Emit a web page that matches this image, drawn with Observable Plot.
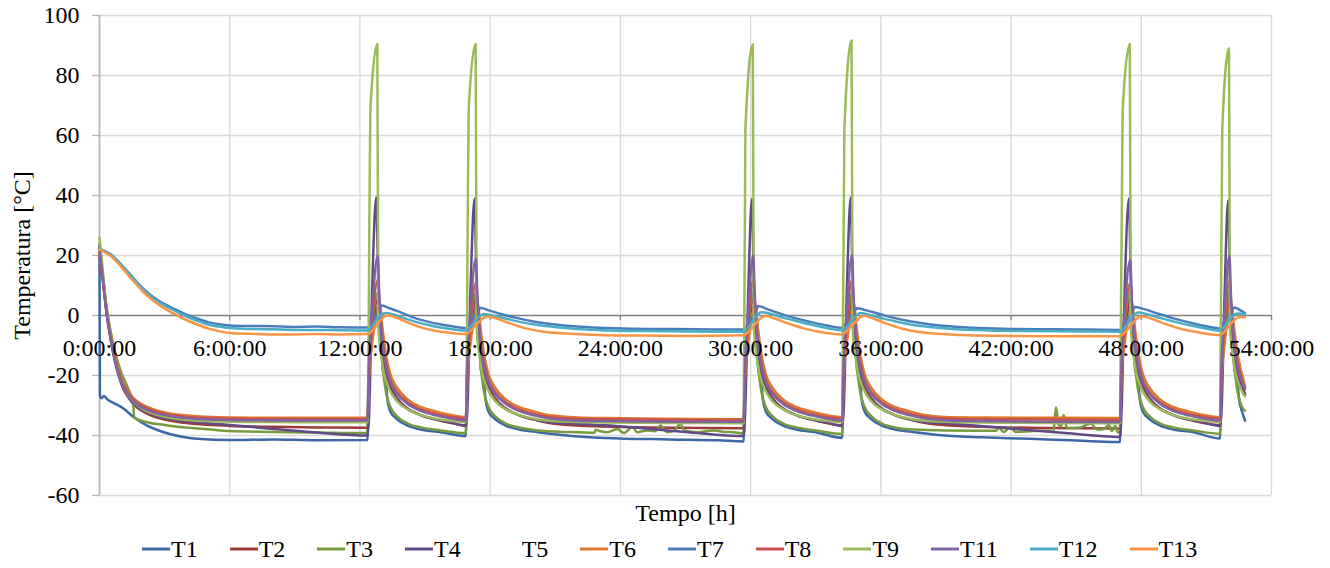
<!DOCTYPE html>
<html>
<head>
<meta charset="utf-8">
<script src="https://cdn.jsdelivr.net/npm/d3@7"></script>
<script src="https://cdn.jsdelivr.net/npm/@observablehq/plot@0.6"></script>
<style>
  html, body { margin: 0; padding: 0; background: #fff; }
  #wrap { width: 1330px; height: 568px; position: relative; font-family: "Liberation Serif", "Times New Roman", serif; }
  #legend { position: absolute; left: 142px; top: 537px; height: 24px; display: flex; align-items: center; font-size: 24px; line-height: 24px; color: #000; white-space: nowrap; }
  .item { display: flex; align-items: center; margin-right: 32px; }
  .item svg { margin-right: 1px; }
</style>
</head>
<body>
<div id="wrap"></div>
<script>
// ---- tick values / labels ----
const xTicks = [0, 6, 12, 18, 24, 30, 36, 42, 48, 54];
const yTicks = [-60, -40, -20, 0, 20, 40, 60, 80, 100];
const seriesNames = ["T1","T2","T3","T4","T6","T7","T8","T9","T11","T12","T13"];
const legendNames = ["T1","T2","T3","T4","T5","T6","T7","T8","T9","T11","T12","T13"];
const seriesColors = ["#3C69A6","#9E3A38","#779B3E","#614A88","#E0782F","#4A7EBB","#C9504C","#9BBB59","#8064A2","#4BACC6","#F79646"];

// ---- series values: [time in hours, temperature °C] ----
const T1 = [[0,20],[0.02,-26.7],[0.1,-27.6],[0.2,-26.8],[0.4,-28.2],[0.66,-29.2],[1.12,-31.1],[1.58,-33.9],[2.2,-36.7],[2.96,-38.9],[3.73,-40.3],[4.5,-41.1],[6,-41.5],[8,-41.3],[10,-41.6],[12.35,-41.5],
[12.39,-20],[12.65,-3],[12.85,3],[12.92,-8],[13.0,-11],[13.05,-18],[13.2,-22],[13.25,-27],[13.4,-32],[13.7,-34.5],[14.2,-36.7],[14.8,-38],[15.7,-38.9],[16.88,-40.2],
[16.92,-20],[17.18,-3],[17.37,3],[17.44,-8],[17.52,-11],[17.57,-18],[17.72,-22],[17.77,-27],[17.92,-32],[18.22,-34.5],[18.72,-36.7],[19.32,-38],[20.2,-38.9],[21.3,-39.8],[23.3,-40.8],[26.3,-41.3],[28.5,-41.6],[29.68,-42],
[29.72,-20],[29.98,-3],[30.15,3],[30.22,-8],[30.3,-11],[30.35,-18],[30.5,-22],[30.55,-27],[30.7,-32],[31.0,-34.5],[31.5,-36.7],[32.1,-38],[33.0,-38.9],[34.22,-40.8],
[34.26,-20],[34.52,-3],[34.7,3],[34.77,-8],[34.85,-11],[34.9,-18],[35.05,-22],[35.1,-27],[35.25,-32],[35.55,-34.5],[36.05,-36.7],[36.65,-38],[37.55,-38.9],[38.65,-39.8],[40.65,-40.6],[43.65,-41.3],[45.5,-41.8],[47.02,-42.2],
[47.06,-20],[47.32,-3],[47.52,3],[47.59,-8],[47.67,-11],[47.72,-18],[47.87,-22],[47.92,-27],[48.07,-32],[48.37,-34.5],[48.87,-36.7],[49.47,-38],[50.4,-38.9],[51.63,-41],
[51.67,-20],[51.93,-3],[52.09,3],[52.16,-8],[52.24,-11],[52.29,-18],[52.44,-22],[52.49,-27],[52.64,-32],[52.78,-35]];

const T2 = [[0,21],[0.15,12],[0.3,2],[0.5,-7.5],[0.7,-15],[0.9,-20.5],[1.1,-24.5],[1.35,-27.5],[1.6,-29.8],[2,-32],[2.5,-33.7],[3,-34.7],[3.7,-35.6],[4.5,-36.2],[6,-36.8],[8,-37.1],[10,-37.3],[12.35,-37.4],
[12.41,-22],[12.55,-8],[12.85,6],[12.92,-3],[13.02,-11],[13.18,-18.5],[13.4,-23.5],[13.7,-27.5],[14.2,-31],[14.8,-33.2],[15.5,-34.7],[16.2,-35.8],[16.88,-36.6],
[16.94,-22],[17.08,-8],[17.37,6],[17.44,-3],[17.54,-11],[17.7,-18.5],[17.92,-23.5],[18.22,-27.5],[18.72,-31],[19.32,-33.2],[20.02,-34.7],[20.72,-35.8],[21.6,-36.5],[23.3,-37],[26.3,-37.4],[29.68,-37.6],
[29.74,-22],[29.88,-8],[30.15,6],[30.22,-3],[30.32,-11],[30.48,-18.5],[30.7,-23.5],[31.0,-27.5],[31.5,-31],[32.1,-33.2],[32.8,-34.7],[33.5,-35.8],[34.22,-36.6],
[34.28,-22],[34.42,-8],[34.7,6],[34.77,-3],[34.87,-11],[35.03,-18.5],[35.25,-23.5],[35.55,-27.5],[36.05,-31],[36.65,-33.2],[37.35,-34.7],[38.05,-35.8],[38.9,-36.5],[40.6,-37.1],[43.6,-37.5],[47.02,-37.7],
[47.08,-22],[47.22,-8],[47.52,6],[47.59,-3],[47.69,-11],[47.85,-18.5],[48.07,-23.5],[48.37,-27.5],[48.87,-31],[49.47,-33.2],[50.17,-34.7],[50.87,-35.8],[51.63,-36.6],
[51.69,-22],[51.83,-8],[52.09,6],[52.16,-3],[52.26,-11],[52.42,-18.5],[52.64,-23.5],[52.78,-26]];

const T3 = [[0,24],[0.15,14],[0.3,4],[0.5,-5],[0.75,-13],[1,-19],[1.3,-24],[1.55,-29.5],[1.6,-33.9],[2.2,-35.6],[3,-36.5],[3.73,-37.2],[5,-37.9],[6,-38.5],[8,-38.8],[10,-39],[12.35,-39.2],
[12.4,-25],[12.55,-5],[12.85,8],[12.92,0],[13.05,-17],[13.2,-25.5],[13.4,-30.5],[13.7,-33.5],[14.2,-36],[14.8,-37.3],[15.7,-38.3],[16.88,-39.2],
[16.93,-25],[17.08,-5],[17.37,8],[17.44,0],[17.57,-17],[17.72,-25.5],[17.92,-30.5],[18.22,-33.5],[18.72,-36],[19.32,-37.3],[20.2,-38.3],[21.5,-38.8],[22.8,-39.1],
[22.86,-38.1],[23.1,-38.6],[23.4,-38.9],[23.86,-37.8],[24.16,-39.2],[24.55,-37.2],[24.78,-38.9],[25.24,-38.3],[25.6,-38.6],[25.85,-36.7],[26.16,-38.9],[26.5,-38.3],[26.77,-36.1],[26.93,-38.3],[27.54,-38.9],[28.31,-38.3],[28.8,-38.8],[29.23,-38.9],[29.5,-39.2],[29.68,-39.4],
[29.73,-25],[29.88,-5],[30.15,8],[30.22,0],[30.35,-17],[30.5,-25.5],[30.7,-30.5],[31.0,-33.5],[31.5,-36],[32.1,-37.3],[33.0,-38.3],[34.22,-39.5],
[34.27,-25],[34.42,-5],[34.7,8],[34.77,0],[34.9,-17],[35.05,-25.5],[35.25,-30.5],[35.55,-33.5],[36.05,-36],[36.65,-37.3],[37.5,-38],[39,-38.3],[41.3,-38.4],[41.44,-37.4],[41.65,-38.8],[41.98,-37.2],[42.2,-38.8],[43.0,-38.5],[43.8,-38.4],[43.95,-38.9],[44.07,-30.6],[44.2,-36.5],[44.3,-37],[44.42,-33.2],[44.58,-37.5],[45.2,-37.3],[45.67,-36],[45.97,-38],[46.3,-37.8],[46.5,-36.5],[46.65,-38.5],[46.8,-36.8],[46.92,-39],[47.02,-38.4],
[47.07,-25],[47.22,-5],[47.52,8],[47.59,0],[47.72,-17],[47.87,-25.5],[48.07,-30.5],[48.37,-33.5],[48.87,-36],[49.47,-37.3],[50.4,-38.3],[51.63,-39.4],
[51.68,-25],[51.83,-5],[52.09,8],[52.16,0],[52.29,-17],[52.44,-25.5],[52.64,-30.5],[52.78,-31.7]];

const T4 = [[0,23],[0.15,13],[0.3,3],[0.5,-7],[0.7,-14.5],[0.9,-20],[1.1,-24],[1.35,-27.2],[1.6,-29.5],[2,-31.6],[2.5,-33.2],[3,-34.2],[3.7,-35],[4.5,-35.6],[6,-36.5],[8,-37.8],[10,-39],[12.35,-40],
[12.41,-35],[12.57,10.7],[12.75,39.4],[12.87,1.7],[12.95,-7],[13.05,-15],[13.25,-22],[13.5,-26],[13.9,-29.5],[14.5,-32.3],[15.3,-34.3],[16.1,-35.5],[16.88,-36.8],
[16.94,-33],[17.1,10],[17.28,39],[17.39,2],[17.47,-7],[17.57,-15],[17.77,-22],[18.02,-26],[18.42,-29.5],[19.02,-32.3],[19.82,-34.3],[20.62,-35.5],[21.8,-36],[23.3,-36.6],[25,-37.6],[27,-38.8],[29.68,-40.2],
[29.74,-34],[29.9,10],[30.06,38.8],[30.17,2],[30.25,-7],[30.35,-15],[30.55,-22],[30.8,-26],[31.2,-29.5],[31.8,-32.3],[32.6,-34.3],[33.4,-35.5],[34.22,-36.8],
[34.28,-33],[34.44,10],[34.61,39.3],[34.72,2],[34.8,-7],[34.9,-15],[35.1,-22],[35.35,-26],[35.75,-29.5],[36.35,-32.3],[37.15,-34.3],[37.95,-35.5],[39.1,-36],[40.6,-36.8],[42.5,-38],[44.5,-39.2],[47.02,-40.5],
[47.08,-34],[47.24,10],[47.43,39],[47.54,2],[47.62,-7],[47.72,-15],[47.92,-22],[48.17,-26],[48.57,-29.5],[49.17,-32.3],[49.97,-34.3],[50.77,-35.5],[51.63,-36.8],
[51.69,-33],[51.85,10],[52.0,38.3],[52.11,2],[52.19,-7],[52.29,-15],[52.49,-22],[52.74,-26],[52.78,-26.5]];

const T6 = [[0,21],[0.15,13],[0.3,4],[0.5,-5],[0.7,-12],[0.9,-18],[1.1,-22.5],[1.35,-25.5],[1.6,-27.8],[2,-29.8],[2.5,-31.3],[3,-32.3],[3.7,-33.1],[4.5,-33.6],[6,-34],[8,-34.1],[12.35,-34.1],
[12.41,-22],[12.55,-10],[12.8,1],[12.9,4],[13.05,-5],[13.2,-13],[13.4,-19.5],[13.7,-24],[14.2,-28],[14.8,-30.5],[15.5,-32],[16.2,-33.2],[16.88,-33.9],
[16.94,-22],[17.08,-10],[17.32,1],[17.42,4],[17.57,-5],[17.72,-13],[17.92,-19.5],[18.22,-24],[18.72,-28],[19.32,-30.5],[20.02,-32],[20.72,-33.2],[21.6,-33.8],[23.3,-34.2],[26.3,-34.4],[29.68,-34.6],
[29.74,-22],[29.88,-10],[30.1,1],[30.2,4],[30.35,-5],[30.5,-13],[30.7,-19.5],[31.0,-24],[31.5,-28],[32.1,-30.5],[32.8,-32],[33.5,-33.2],[34.22,-33.9],
[34.28,-22],[34.42,-10],[34.65,1],[34.75,4],[34.9,-5],[35.05,-13],[35.25,-19.5],[35.55,-24],[36.05,-28],[36.65,-30.5],[37.35,-32],[38.05,-33.2],[38.9,-33.8],[40.6,-34],[43.6,-34.1],[47.02,-34.2],
[47.08,-22],[47.22,-10],[47.47,1],[47.57,4],[47.72,-5],[47.87,-13],[48.07,-19.5],[48.37,-24],[48.87,-28],[49.47,-30.5],[50.17,-32],[50.87,-33.2],[51.63,-33.9],
[51.69,-22],[51.83,-10],[52.04,1],[52.14,4],[52.29,-5],[52.44,-13],[52.64,-19.5],[52.78,-23.5]];

const T7 = [[0,22.3],[0.5,20.5],[1,17],[1.5,13],[2,9],[2.5,6],[3,3.8],[3.5,2],[4,0.3],[4.5,-1],[5,-2.2],[5.5,-2.9],[6,-3.3],[7,-3.5],[8,-3.6],[9,-3.8],[10,-3.7],[11,-3.9],[12.35,-4.0],
[12.5,-2.5],[12.7,-0.5],[12.9,2],[13.0,3.3],[13.3,2.6],[13.8,1.3],[14.5,-0.8],[15.2,-2.2],[16,-3.3],[16.88,-4.2],
[17.0,-3.2],[17.2,-1],[17.45,1.5],[17.55,2.6],[17.9,1.8],[18.5,0.5],[19.2,-0.8],[20,-2],[21,-3],[22,-3.7],[23,-4.1],[24.5,-4.4],[26,-4.5],[27.5,-4.6],[29.68,-4.7],
[29.8,-3.6],[30,-1.5],[30.25,1.5],[30.35,3.2],[30.7,2.3],[31.3,0.8],[32,-0.8],[32.8,-2.2],[33.5,-3.3],[34.22,-4.1],
[34.35,-3],[34.55,-0.8],[34.8,1.5],[34.9,2.4],[35.3,1.8],[35.9,0.6],[36.6,-0.8],[37.4,-2],[38.3,-3],[39.3,-3.7],[40.5,-4.2],[42,-4.5],[44,-4.6],[45.5,-4.7],[47.02,-4.8],
[47.15,-3.5],[47.35,-1.2],[47.6,1.5],[47.7,2.8],[48.1,2.2],[48.7,0.8],[49.4,-0.8],[50.2,-2.3],[51,-3.6],[51.63,-4.3],
[51.75,-3],[51.95,-0.5],[52.2,2],[52.3,2.7],[52.55,1.8],[52.78,0.8]];

const T8 = [[0,20],[0.15,12],[0.3,3],[0.5,-6],[0.7,-13],[0.9,-19],[1.1,-23],[1.35,-26],[1.6,-28.3],[2,-30.3],[2.5,-31.8],[3,-32.8],[3.7,-33.6],[4.5,-34.1],[6,-34.4],[8,-34.5],[12.35,-34.5],
[12.41,-20],[12.55,-4],[12.83,12],[12.92,1],[13.05,-9],[13.2,-16],[13.4,-21.5],[13.7,-25.5],[14.2,-29],[14.8,-31.3],[15.5,-32.8],[16.2,-33.8],[16.88,-34.3],
[16.94,-20],[17.08,-4],[17.35,11],[17.44,1],[17.57,-9],[17.72,-16],[17.92,-21.5],[18.22,-25.5],[18.72,-29],[19.32,-31.3],[20.02,-32.8],[20.72,-33.8],[21.6,-34.3],[23.3,-34.6],[26.3,-34.8],[29.68,-34.8],
[29.74,-20],[29.88,-4],[30.13,12],[30.22,1],[30.35,-9],[30.5,-16],[30.7,-21.5],[31.0,-25.5],[31.5,-29],[32.1,-31.3],[32.8,-32.8],[33.5,-33.8],[34.22,-34.3],
[34.28,-20],[34.42,-4],[34.68,12],[34.77,1],[34.9,-9],[35.05,-16],[35.25,-21.5],[35.55,-25.5],[36.05,-29],[36.65,-31.3],[37.35,-32.8],[38.05,-33.8],[38.9,-34.3],[40.6,-34.6],[43.6,-34.7],[47.02,-34.8],
[47.08,-20],[47.22,-4],[47.5,11],[47.59,1],[47.72,-9],[47.87,-16],[48.07,-21.5],[48.37,-25.5],[48.87,-29],[49.47,-31.3],[50.17,-32.8],[50.87,-33.8],[51.63,-34.3],
[51.69,-20],[51.83,-4],[52.07,12],[52.16,1],[52.29,-9],[52.44,-16],[52.64,-21.5],[52.78,-24]];

const T9 = [[0,26],[0.15,15],[0.3,4],[0.5,-6],[0.7,-13.5],[0.9,-19.5],[1.1,-23.5],[1.35,-26.8],[1.6,-29],[2,-31.2],[2.5,-32.8],[3,-33.8],[3.7,-34.6],[4.5,-35.1],[6,-35.4],[8,-35.5],[12.35,-35.6],
[12.49,70],[12.8,90.5],[12.85,-4],[12.95,-12],[13.1,-19],[13.35,-24.5],[13.7,-28.5],[14.2,-31.3],[14.8,-33.2],[15.5,-34.4],[16.2,-35.1],[16.88,-35.5],
[17.02,70],[17.33,90.5],[17.38,-4],[17.48,-12],[17.63,-19],[17.88,-24.5],[18.23,-28.5],[18.73,-31.3],[19.33,-33.2],[20.03,-34.4],[20.73,-35.1],[21.6,-35.4],[23.3,-35.7],[26.3,-35.8],[29.68,-35.9],
[29.76,62],[30.1,90.3],[30.15,-4],[30.25,-12],[30.4,-19],[30.65,-24.5],[31.0,-28.5],[31.5,-31.3],[32.1,-33.2],[32.8,-34.4],[33.5,-35.1],[34.22,-35.5],
[34.32,62],[34.65,91.7],[34.7,-4],[34.8,-12],[34.95,-19],[35.2,-24.5],[35.55,-28.5],[36.05,-31.3],[36.65,-33.2],[37.35,-34.4],[38.05,-35.1],[38.9,-35.4],[40.6,-35.7],[43.6,-35.8],[47.02,-35.9],
[47.14,68],[47.47,90.5],[47.52,-4],[47.62,-12],[47.77,-19],[48.02,-24.5],[48.37,-28.5],[48.87,-31.3],[49.47,-33.2],[50.17,-34.4],[50.87,-35.1],[51.63,-35.5],
[51.73,62],[52.04,89],[52.09,-4],[52.19,-12],[52.34,-19],[52.59,-24.5],[52.78,-27]];

const T11 = [[0,22],[0.15,13],[0.3,3],[0.5,-6.5],[0.7,-14],[0.9,-19.5],[1.1,-23.5],[1.35,-26.5],[1.6,-28.8],[2,-30.8],[2.5,-32.3],[3,-33.2],[3.7,-34],[4.5,-34.5],[6,-34.8],[8,-35],[12.35,-35],
[12.41,-18],[12.55,0],[12.82,20],[12.9,5],[13.0,-6],[13.15,-15],[13.4,-22],[13.7,-26],[14.2,-29.5],[14.8,-31.8],[15.5,-33.3],[16.2,-34.3],[16.88,-35],
[16.94,-18],[17.08,0],[17.34,19],[17.42,5],[17.52,-6],[17.67,-15],[17.92,-22],[18.22,-26],[18.72,-29.5],[19.32,-31.8],[20.02,-33.3],[20.72,-34.3],[21.6,-34.9],[23.3,-35.2],[26.3,-35.4],[29.68,-35.4],
[29.74,-18],[29.88,0],[30.12,20],[30.2,5],[30.3,-6],[30.45,-15],[30.7,-22],[31.0,-26],[31.5,-29.5],[32.1,-31.8],[32.8,-33.3],[33.5,-34.3],[34.22,-35],
[34.28,-18],[34.42,0],[34.67,20],[34.75,5],[34.85,-6],[35.0,-15],[35.25,-22],[35.55,-26],[36.05,-29.5],[36.65,-31.8],[37.35,-33.3],[38.05,-34.3],[38.9,-34.9],[40.6,-35.2],[43.6,-35.4],[47.02,-35.5],
[47.08,-18],[47.22,0],[47.49,18.5],[47.57,5],[47.67,-6],[47.82,-15],[48.07,-22],[48.37,-26],[48.87,-29.5],[49.47,-31.8],[50.17,-33.3],[50.87,-34.3],[51.63,-35],
[51.69,-18],[51.83,0],[52.06,20],[52.14,5],[52.24,-6],[52.39,-15],[52.64,-22],[52.78,-24.5]];

const T12 = [[0,22],[0.5,20.3],[1,16.8],[1.5,12.8],[2,8.8],[2.5,5.6],[3,3.3],[3.5,1.5],[4,-0.3],[4.5,-1.8],[5,-3],[5.5,-3.7],[6,-4.2],[7,-4.5],[8,-4.6],[9,-4.8],[10,-4.8],[11,-4.9],[12.35,-5.0],
[12.5,-4],[12.75,-1.8],[13.0,0.3],[13.15,0.8],[13.5,0.4],[14,-0.8],[14.6,-2.2],[15.3,-3.4],[16.1,-4.4],[16.88,-5.0],
[17.05,-4],[17.3,-2],[17.55,0],[17.7,0.5],[18.1,0],[18.7,-1],[19.4,-2.2],[20.2,-3.2],[21.2,-4],[22.2,-4.6],[23.5,-5],[25,-5.2],[27,-5.3],[29.68,-5.4],
[29.85,-4.3],[30.1,-2],[30.35,0.5],[30.5,1.1],[30.9,0.6],[31.5,-0.7],[32.2,-2],[33,-3.4],[33.6,-4.3],[34.22,-5.0],
[34.4,-4],[34.65,-2],[34.9,0.2],[35.05,0.8],[35.45,0.3],[36,-0.8],[36.7,-2],[37.5,-3.2],[38.5,-4],[39.5,-4.6],[41,-5],[43,-5.2],[45.5,-5.3],[47.02,-5.4],
[47.2,-4.3],[47.45,-2],[47.7,0.4],[47.85,1],[48.25,0.5],[48.85,-0.8],[49.6,-2.2],[50.4,-3.5],[51.1,-4.5],[51.63,-5.1],
[51.8,-4],[52.05,-1.5],[52.3,0.3],[52.45,0.7],[52.78,0.4]];

const T13 = [[0,22],[0.5,20],[1,16.2],[1.5,12],[2,8],[2.5,4.8],[3,2.3],[3.5,0.3],[4,-1.5],[4.5,-3],[5,-4.3],[5.5,-5.2],[6,-5.8],[7,-6.1],[8,-6.3],[9,-6.3],[10,-6.2],[11,-6.3],[12.35,-6.2],
[12.6,-4.8],[12.85,-2.5],[13.1,-0.5],[13.3,0],[13.6,-0.5],[14.1,-2],[14.7,-3.7],[15.4,-5],[16.2,-5.8],[16.88,-6.2],
[17.1,-5],[17.4,-2.8],[17.7,-0.8],[17.9,-0.4],[18.3,-1],[18.9,-2.6],[19.6,-4.2],[20.4,-5.3],[21.5,-6],[23,-6.5],[25,-6.7],[27,-6.8],[29.68,-6.6],
[29.9,-5.5],[30.2,-3],[30.5,-0.7],[30.7,-0.2],[31.1,-1],[31.7,-2.6],[32.4,-4.2],[33.2,-5.5],[34.22,-6.3],
[34.45,-5],[34.75,-2.7],[35.05,-0.6],[35.25,-0.2],[35.65,-1],[36.3,-2.8],[37,-4.4],[37.8,-5.5],[38.8,-6.2],[40,-6.6],[42,-6.8],[44,-6.9],[47.02,-6.9],
[47.25,-5.5],[47.55,-3],[47.85,-0.7],[48.05,-0.3],[48.45,-1],[49.1,-2.8],[49.8,-4.4],[50.6,-5.6],[51.63,-6.5],
[51.85,-5.2],[52.15,-2.5],[52.45,-0.7],[52.6,-0.5],[52.78,-0.6]];

const seriesData = [T1, T2, T3, T4, T6, T7, T8, T9, T11, T12, T13];

// ---- build table for Plot ----
const rows = seriesNames.flatMap((name, i) => seriesData[i].map(([t, v]) => ({series: name, t, v})));
const fmtTime = h => `${h}:00:00`;

const chart = Plot.plot({
  width: 1330,
  height: 528,
  marginLeft: 99,
  marginRight: 59,
  marginTop: 15,
  marginBottom: 33,
  style: {fontFamily: "'Liberation Serif', 'Times New Roman', serif", fontSize: "24px", color: "#000", background: "#fff", overflow: "visible"},
  x: {domain: [0, 54], axis: null},
  y: {domain: [-60, 100], axis: null},
  color: {domain: seriesNames, range: seriesColors},
  marks: [
    Plot.ruleX(xTicks, {x: d => d, stroke: "#d9d9d9", strokeWidth: 1.3}),
    Plot.ruleY(yTicks, {y: d => d, stroke: "#d9d9d9", strokeWidth: 1.3}),
    Plot.ruleX([0], {stroke: "#b3b3b3", strokeWidth: 1.6}),
    Plot.ruleY(yTicks, {y: d => d, x1: 0, x2: 0, insetLeft: -7, stroke: "#b3b3b3", strokeWidth: 1.3}),
    Plot.ruleY([0], {stroke: "#868686", strokeWidth: 1.3}),
    Plot.ruleX(xTicks, {x: d => d, y1: 0, y2: 0, insetBottom: -5, stroke: "#868686", strokeWidth: 1.3}),
    Plot.line(rows, {x: "t", y: "v", z: "series", stroke: "series", strokeWidth: 2.5, curve: "monotone-x", strokeLinejoin: "round"}),
    Plot.text(yTicks, {x: 0, y: d => d, text: d => String(d), textAnchor: "end", dx: -20, lineAnchor: "middle", fontSize: 24, fill: "#000"}),
    Plot.text(xTicks, {x: d => d, y: 0, text: fmtTime, dy: 33, lineAnchor: "middle", fontSize: 24, fill: "#000"}),
    Plot.text(["Temperatura [°C]"], {frameAnchor: "left", dx: -77, rotate: -90, textAnchor: "middle", lineAnchor: "middle", fontSize: 24, fill: "#000"}),
    Plot.text(["Tempo [h]"], {frameAnchor: "bottom", dy: 18, textAnchor: "middle", lineAnchor: "middle", fontSize: 24, fill: "#000"})
  ]
});

const wrap = document.getElementById("wrap");
wrap.appendChild(chart);

// ---- legend ----
const legend = document.createElement("div");
legend.id = "legend";
const colorOf = new Map(seriesNames.map((n, i) => [n, seriesColors[i]]));
for (const name of legendNames) {
  const item = document.createElement("div");
  item.className = "item";
  const c = colorOf.get(name);
  item.innerHTML = `<svg width="28" height="6"><line x1="0" x2="28" y1="3" y2="3" stroke="${c || "none"}" stroke-width="3"/></svg><span>${name}</span>`;
  legend.appendChild(item);
}
wrap.appendChild(legend);
</script>
</body>
</html>
